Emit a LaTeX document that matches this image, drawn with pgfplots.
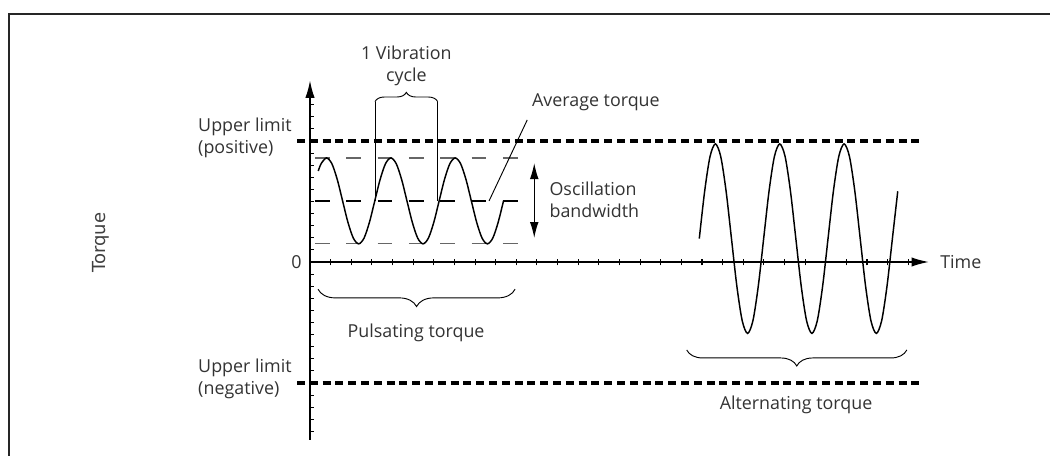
\documentclass[border=0pt]{standalone}
\usepackage{fontspec}
\setmainfont{Open Sans}
\newfontfamily\dejavu{DejaVu Sans}
\usepackage{pgfplots}
\pgfplotsset{compat=1.18}
\usetikzlibrary{arrows.meta,decorations.pathreplacing}
\definecolor{txt}{HTML}{333333}

\begin{document}
\begin{tikzpicture}[font=\fontsize{13.4pt}{16.5pt}\selectfont, every node/.style={inner sep=0pt, text=txt}]
\path[use as bounding box] (0,0) rectangle (787.5pt,342pt);
\draw[line width=1.5pt, black!85] (6.75pt,0) -- (6.75pt,331.5pt) -- (787.5pt,331.5pt);
\begin{axis}[
  at={(232.5pt,145.5pt)}, anchor=origin,
  x=15.4725pt, y=9.075pt,
  xmin=0, xmax=30, ymin=-14.7, ymax=15,
  axis lines=middle,
  axis line style={line width=1.1pt, -{Latex[length=13pt,width=7pt]}},
  xtick={1,...,29}, ytick={-14,...,-1,1,2,...,13},
  xticklabels={}, yticklabels={},
  xtick align=center, ytick align=inside,
  major tick length=5pt,
  tick style={black, line width=0.8pt},
  ytick style={/pgfplots/major tick length=3pt},
  clip=false,
]
% upper limits
\addplot[black, line width=2.4pt, dash pattern=on 6pt off 3.6pt] coordinates {(-0.63,10) (29.67,10)};
\addplot[black, line width=2.4pt, dash pattern=on 6pt off 3.6pt] coordinates {(-0.63,-10) (29.67,-10)};
% max/min/mean of pulsating torque
\addplot[black!60, line width=0.9pt, dash pattern=on 11pt off 12.5pt] coordinates {(0.24,8.6) (10.26,8.6)};
\addplot[black!60, line width=0.9pt, dash pattern=on 11pt off 12.5pt] coordinates {(0.24,1.5) (10.26,1.5)};
\addplot[black, line width=1.2pt, dash pattern=on 11pt off 12.5pt] coordinates {(0.24,5.05) (10.26,5.05)};
% pulsating torque
\addplot[black, line width=1.1pt, smooth] coordinates {
(0.40,7.52) (0.54,8.124) (0.80,8.6) (1.06,8.124) (1.32,6.825) (1.58,5.05) (1.84,3.275) (2.10,1.976)
(2.36,1.5) (2.62,1.976) (2.88,3.275) (3.14,5.05) (3.40,6.825) (3.66,8.124) (3.92,8.6) (4.18,8.124)
(4.44,6.825) (4.70,5.05) (4.96,3.275) (5.22,1.976) (5.48,1.5) (5.74,1.976) (6.00,3.275) (6.26,5.05)
(6.52,6.825) (6.78,8.124) (7.04,8.6) (7.30,8.124) (7.56,6.825) (7.82,5.05) (8.08,3.275) (8.34,1.976)
(8.60,1.5) (8.86,1.976) (9.12,3.275) (9.38,5.05)};
% alternating torque
\addplot[black, line width=1.1pt, smooth] coordinates {
(18.87,1.93) (19.13,5.845) (19.39,8.71) (19.65,9.76) (19.91,8.71) (20.17,5.845) (20.43,1.93)
(20.69,-1.985) (20.95,-4.85) (21.21,-5.9) (21.47,-4.85) (21.73,-1.985) (21.99,1.93) (22.25,5.845)
(22.51,8.71) (22.77,9.76) (23.03,8.71) (23.29,5.845) (23.55,1.93) (23.81,-1.985) (24.07,-4.85)
(24.33,-5.9) (24.59,-4.85) (24.85,-1.985) (25.11,1.93) (25.37,5.845) (25.63,8.71) (25.89,9.76)
(26.15,8.71) (26.41,5.845) (26.67,1.93) (26.93,-1.985) (27.19,-4.85) (27.45,-5.9) (27.71,-4.85)
(27.97,-1.985) (28.23,1.93) (28.49,5.845)};
% vibration cycle markers
\addplot[black, line width=0.7pt] coordinates {(3.15,5.05) (3.15,13.25)};
\addplot[black, line width=0.7pt] coordinates {(6.19,5.05) (6.19,13.25)};
\draw[decorate, decoration={brace, amplitude=7pt}, line width=0.7pt] (axis cs:3.15,13.25) -- (axis cs:6.19,13.25);
% leader line
\draw[black, line width=0.7pt] (axis cs:8.68,5.05) -- (axis cs:10.53,11.74);
% oscillation bandwidth arrow
\draw[black, line width=1pt, {Latex[length=12pt,width=6.5pt]}-{Latex[length=12pt,width=6.5pt]}] (axis cs:10.87,8.18) -- (axis cs:10.87,1.98);
% braces
\draw[decorate, decoration={brace, amplitude=13pt}, line width=0.7pt] (axis cs:9.94,-2.25) -- (axis cs:0.39,-2.25);
\draw[decorate, decoration={brace, amplitude=12pt}, line width=0.7pt] (axis cs:28.93,-7.27) -- (axis cs:18.26,-7.27);
% texts
\node[align=center] at (axis cs:4.67,16.2) {1 Vibration\\cycle};
\node at (axis cs:13.86,13.2) {Average torque};
\node[align=left, anchor=west] at (axis cs:11.6,5.1) {Oscillation\\bandwidth};
\node at (axis cs:5.14,-5.87) {Pulsating torque};
\node at (axis cs:23.56,-11.8) {Alternating torque};
\node[align=left, anchor=west] at (axis cs:-5.43,10.25) {Upper limit\\(positive)};
\node[align=left, anchor=west] at (axis cs:-5.43,-9.67) {Upper limit\\(negative)};
\node[anchor=east] at (axis cs:-0.39,0) {0};
\node[anchor=west] at (axis cs:30.54,0) {Time};
\node[rotate=90, font=\dejavu\fontsize{13.5pt}{15pt}\selectfont, text=black!75] at (axis cs:-10.13,1.6) {Torque};
\end{axis}
\end{tikzpicture}
\end{document}
